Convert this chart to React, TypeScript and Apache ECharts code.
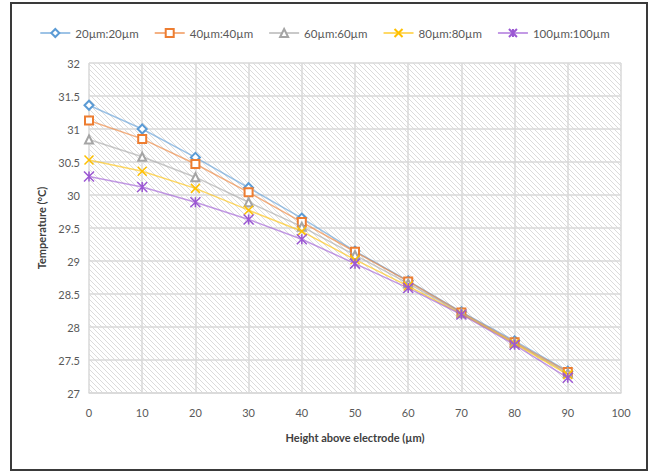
import React, { useEffect, useRef } from "react";
import * as echarts from "echarts";

const heights = [0, 10, 20, 30, 40, 50, 60, 70, 80, 90];
const s20 = [31.36, 31.0, 30.57, 30.11, 29.65, 29.15, 28.7, 28.23, 27.79, 27.33];
const s40 = [31.13, 30.85, 30.47, 30.04, 29.59, 29.14, 28.69, 28.22, 27.77, 27.32];
const s60 = [30.84, 30.58, 30.27, 29.89, 29.52, 29.09, 28.66, 28.21, 27.76, 27.3];
const s80 = [30.53, 30.36, 30.1, 29.77, 29.45, 29.02, 28.62, 28.2, 27.75, 27.28];
const s100 = [30.28, 30.12, 29.89, 29.63, 29.33, 28.96, 28.59, 28.19, 27.73, 27.23];
const seriesNames = ["20µm:20µm", "40µm:40µm", "60µm:60µm", "80µm:80µm", "100µm:100µm"];
const colors = ["#5B9BD5", "#ED7D31", "#A5A5A5", "#FFC000", "#9B57D3"];

const FONT = "Lato, 'Liberation Sans', sans-serif";

function makeHatch(): HTMLCanvasElement {
  const c = document.createElement("canvas");
  const p = 5;
  c.width = p;
  c.height = p;
  const ctx = c.getContext("2d")!;
  ctx.fillStyle = "#ffffff";
  ctx.fillRect(0, 0, p, p);
  ctx.strokeStyle = "#d2d2d2";
  ctx.lineWidth = 0.8;
  for (let k = -1; k <= 1; k++) {
    ctx.beginPath();
    ctx.moveTo(k * p, 0);
    ctx.lineTo(k * p + p, p);
    ctx.stroke();
  }
  return c;
}

export default function App() {
  const ref = useRef<HTMLDivElement>(null);
  useEffect(() => {
    if (!ref.current) return;
    const chart = echarts.init(ref.current, undefined, { renderer: "svg" });
    const data = [s20, s40, s60, s80, s100];
    const symbols = [
      "emptyDiamond",
      "emptyRect",
      "emptyTriangle",
      "path://M0,0L10,10M10,0L0,10",
      "path://M5,0L5,10M0,0L10,10M10,0L0,10",
    ];
    const sizes = [9, 8, 8, 9, 10];
    const series = data.map((vals, i) => ({
      name: seriesNames[i],
      type: "line",
      data: heights.map((h, j) => [h, vals[j]]),
      symbol: symbols[i],
      symbolSize: sizes[i],
      showAllSymbol: true,
      color: colors[i],
      lineStyle: { color: colors[i], width: 1.5, opacity: 0.6 },
      itemStyle: { color: colors[i], borderColor: colors[i], borderWidth: 1.5 },
      z: 2 + i,
    }));
    chart.setOption({
      animation: false,
      textStyle: { fontFamily: FONT },
      graphic: [
        {
          type: "rect",
          shape: { x: 11, y: 3, width: 636, height: 467 },
          style: { fill: "none", stroke: "#3a3a3a", lineWidth: 2 },
          silent: true,
          z: 100,
        },
      ],
      legend: {
        top: 22,
        left: "center",
        itemWidth: 30,
        itemHeight: 10,
        itemGap: 15,
        textStyle: { color: "#595959", fontSize: 11.5, fontFamily: FONT },
        data: seriesNames,
      },
      grid: {
        left: 89,
        right: 28,
        top: 63,
        bottom: 78,
        show: true,
        borderWidth: 0,
        backgroundColor: { image: makeHatch(), repeat: "repeat" },
      },
      xAxis: {
        type: "value",
        min: 0,
        max: 100,
        interval: 10,
        name: "Height above electrode (µm)",
        nameLocation: "middle",
        nameGap: 39,
        nameTextStyle: { fontWeight: "bold", fontSize: 11, color: "#404040", fontFamily: FONT },
        axisLine: { show: true, lineStyle: { color: "#d9d9d9", width: 1.5 } },
        axisTick: { show: false },
        axisLabel: { color: "#595959", fontSize: 11, margin: 14, fontFamily: FONT },
        splitLine: { show: true, lineStyle: { color: "#d9d9d9", width: 1.5 } },
      },
      yAxis: {
        type: "value",
        min: 27,
        max: 32,
        interval: 0.5,
        name: "Temperature (°C)",
        nameLocation: "middle",
        nameGap: 41,
        nameRotate: 90,
        nameTextStyle: { fontWeight: "bold", fontSize: 11, color: "#404040", fontFamily: FONT },
        axisLine: { show: false },
        axisTick: { show: false },
        axisLabel: { color: "#595959", fontSize: 11, margin: 9, fontFamily: FONT },
        splitLine: { show: true, lineStyle: { color: "#d9d9d9", width: 1.5 } },
      },
      series,
    });
    return () => chart.dispose();
  }, []);
  return (
    <div
      ref={ref}
      style={{ position: "fixed", left: 0, top: 0, width: 649, height: 471, background: "#fff" }}
    />
  );
}
